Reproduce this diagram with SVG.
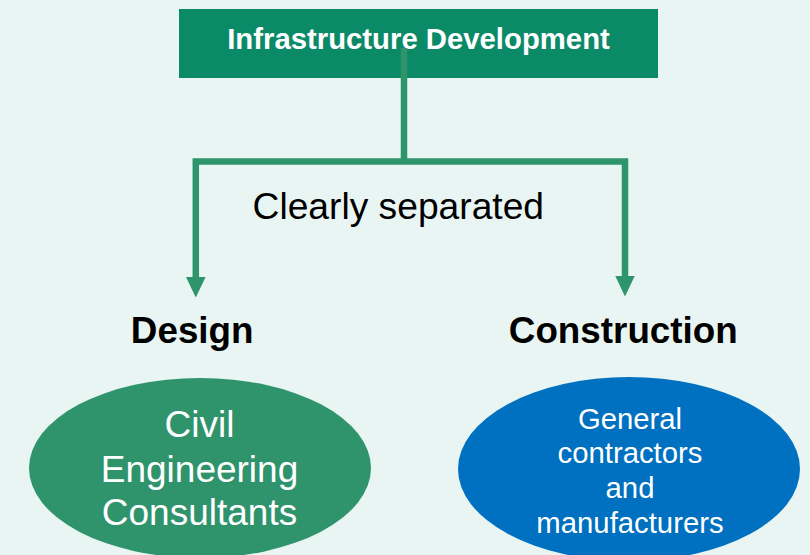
<svg xmlns="http://www.w3.org/2000/svg" width="810" height="555" viewBox="0 0 810 555">
<style>
.t{font-family:"Liberation Sans",Arial,sans-serif;text-anchor:middle}
.b{font-weight:bold}
.w{fill:#FFFFFF}
.k{fill:#000000}
.ln{fill:none;stroke:#2E946B;stroke-width:6.5;stroke-linejoin:miter;stroke-linecap:butt}
.ah{fill:#2E946B}
</style>
<rect width="810" height="555" fill="#E9F5F2"/>
<g id="node-infra">
<rect x="179" y="9" width="479" height="69" fill="#0B8A68"/>
<text class="t b w" x="418.5" y="49" font-size="29.3">Infrastructure Development</text>
</g>
<g id="connectors">
<path class="ln" d="M404,48 V161.5"/>
<path class="ln" d="M195.8,278 V161.5 H625 V277"/>
<polygon class="ah" points="186,277 205.6,277 195.8,297.5"/>
<polygon class="ah" points="615.3,276 634.7,276 625,296.5"/>
</g>
<g id="label-separated">
<text class="t k" x="398.3" y="218.5" font-size="37.2">Clearly separated</text>
</g>
<g id="node-design">
<text class="t b k" x="192.2" y="343.3" font-size="36.8">Design</text>
</g>
<g id="node-construction">
<text class="t b k" x="623.3" y="343.3" font-size="36.8">Construction</text>
</g>
<g id="node-consultants">
<ellipse cx="200" cy="468" rx="171" ry="90" fill="#2F936C"/>
<text class="t w" x="199.5" y="437" font-size="37">Civil</text>
<text class="t w" x="199.5" y="481.5" font-size="37">Engineering</text>
<text class="t w" x="199.5" y="524.5" font-size="37">Consultants</text>
</g>
<g id="node-contractors">
<ellipse cx="629" cy="469" rx="171" ry="92" fill="#0070C0"/>
<text class="t w" x="630" y="428.5" font-size="29.3">General</text>
<text class="t w" x="630" y="463.3" font-size="29.3">contractors</text>
<text class="t w" x="630" y="497.8" font-size="29.3">and</text>
<text class="t w" x="630" y="533.3" font-size="29.3">manufacturers</text>
</g>
</svg>
